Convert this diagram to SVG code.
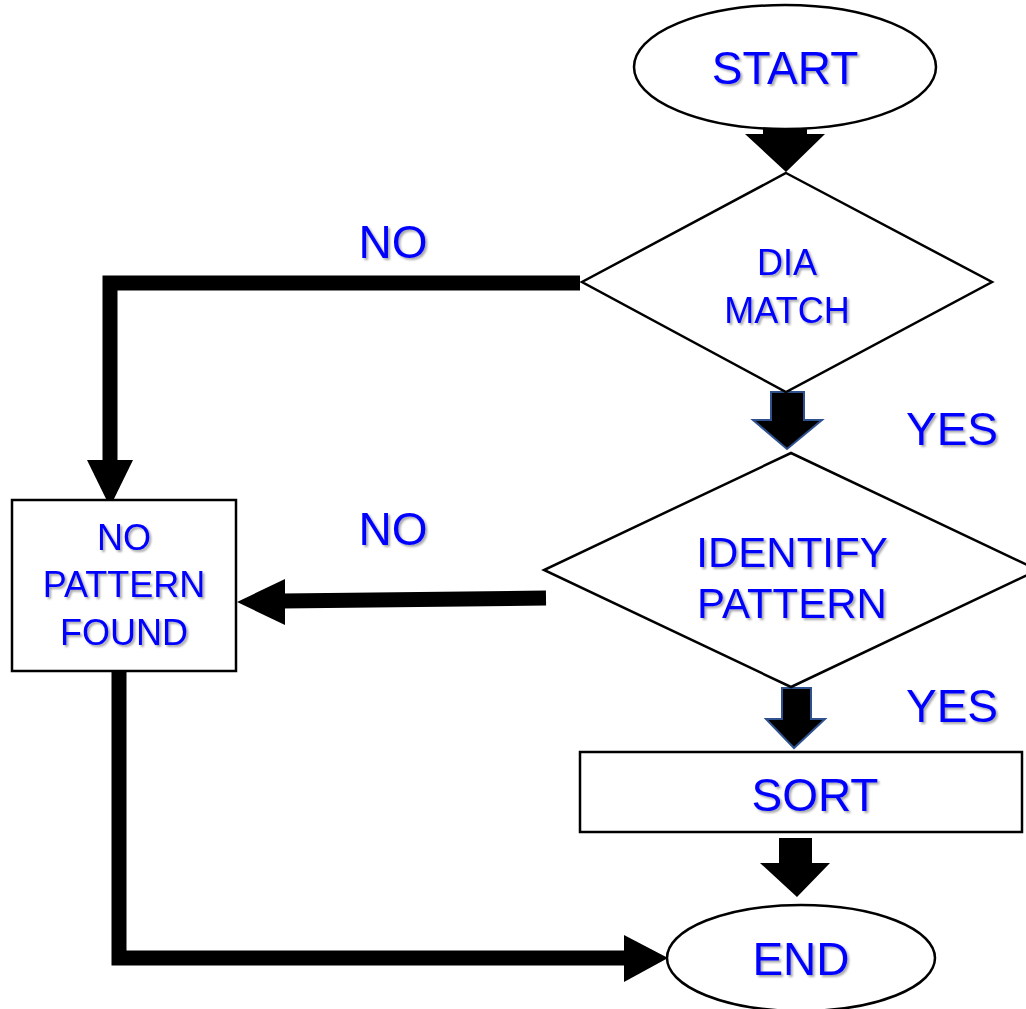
<svg xmlns="http://www.w3.org/2000/svg" width="1026" height="1009" viewBox="0 0 1026 1009">
<defs>
<filter id="sh" x="-10%" y="-20%" width="130%" height="150%">
<feDropShadow dx="2" dy="2" stdDeviation="1" flood-color="#000" flood-opacity="0.35"/>
</filter>
</defs>
<style>
.shape{fill:#fff;stroke:#000;stroke-width:2.5}
.lbl{font-family:"Liberation Sans",Arial,sans-serif;fill:#0000FF;text-anchor:middle;filter:url(#sh)}
.conn{fill:none;stroke:#000;stroke-width:15;stroke-linejoin:miter}
.head{fill:#000}
.blk{fill:#000;stroke:#2F528F;stroke-width:2}
</style>
<rect width="1026" height="1009" fill="#fff"/>
<g id="connectors">
<polygon class="head" points="763,125 807,125 807,134 825,134 786,172 745,134 763,134"/>
<polygon class="blk" points="771,392 804,392 804,420 822,420 787,449 753,420 771,420"/>
<polygon class="blk" points="782,688 811,688 811,719 825,719 794,748 766,719 782,719"/>
<polygon class="head" points="779,838 812,838 812,863 830,863 797,897 760,863 779,863"/>
<polyline class="conn" points="580,283 110,283 110,462"/>
<polygon class="head" points="87,460 133,460 110,507"/>
<polyline class="conn" points="546,598 282,601"/>
<polygon class="head" points="285,579 285,625 237,602"/>
<polyline class="conn" points="119,671 119,958 626,958"/>
<polygon class="head" points="624,935 624,982 668,958"/>
</g>
<g id="start">
<ellipse class="shape" cx="785" cy="67" rx="151" ry="62"/>
<text class="lbl" x="785" y="84" font-size="46">START</text>
</g>
<g id="dia-match">
<polygon class="shape" points="786,173 992,282 786,392 582,282"/>
<text class="lbl" x="787" y="275" font-size="36">DIA</text>
<text class="lbl" x="787" y="323" font-size="36">MATCH</text>
</g>
<g id="identify-pattern">
<polygon class="shape" points="791,453 1038,570 791,687 544,570"/>
<text class="lbl" x="792" y="567" font-size="42">IDENTIFY</text>
<text class="lbl" x="792" y="618" font-size="42">PATTERN</text>
</g>
<g id="no-pattern-found">
<rect class="shape" x="12" y="500" width="224" height="171"/>
<text class="lbl" x="124" y="550" font-size="36">NO</text>
<text class="lbl" x="124" y="597" font-size="36">PATTERN</text>
<text class="lbl" x="124" y="645" font-size="36">FOUND</text>
</g>
<g id="sort">
<rect class="shape" x="580" y="752" width="442" height="80"/>
<text class="lbl" x="815" y="811" font-size="46">SORT</text>
</g>
<g id="end">
<ellipse class="shape" cx="801" cy="958" rx="134" ry="53"/>
<text class="lbl" x="801" y="975" font-size="46">END</text>
</g>
<g id="labels">
<text class="lbl" x="393" y="258" font-size="46">NO</text>
<text class="lbl" x="393" y="545" font-size="46">NO</text>
<text class="lbl" x="952" y="445" font-size="46">YES</text>
<text class="lbl" x="952" y="722" font-size="46">YES</text>
</g>
</svg>
